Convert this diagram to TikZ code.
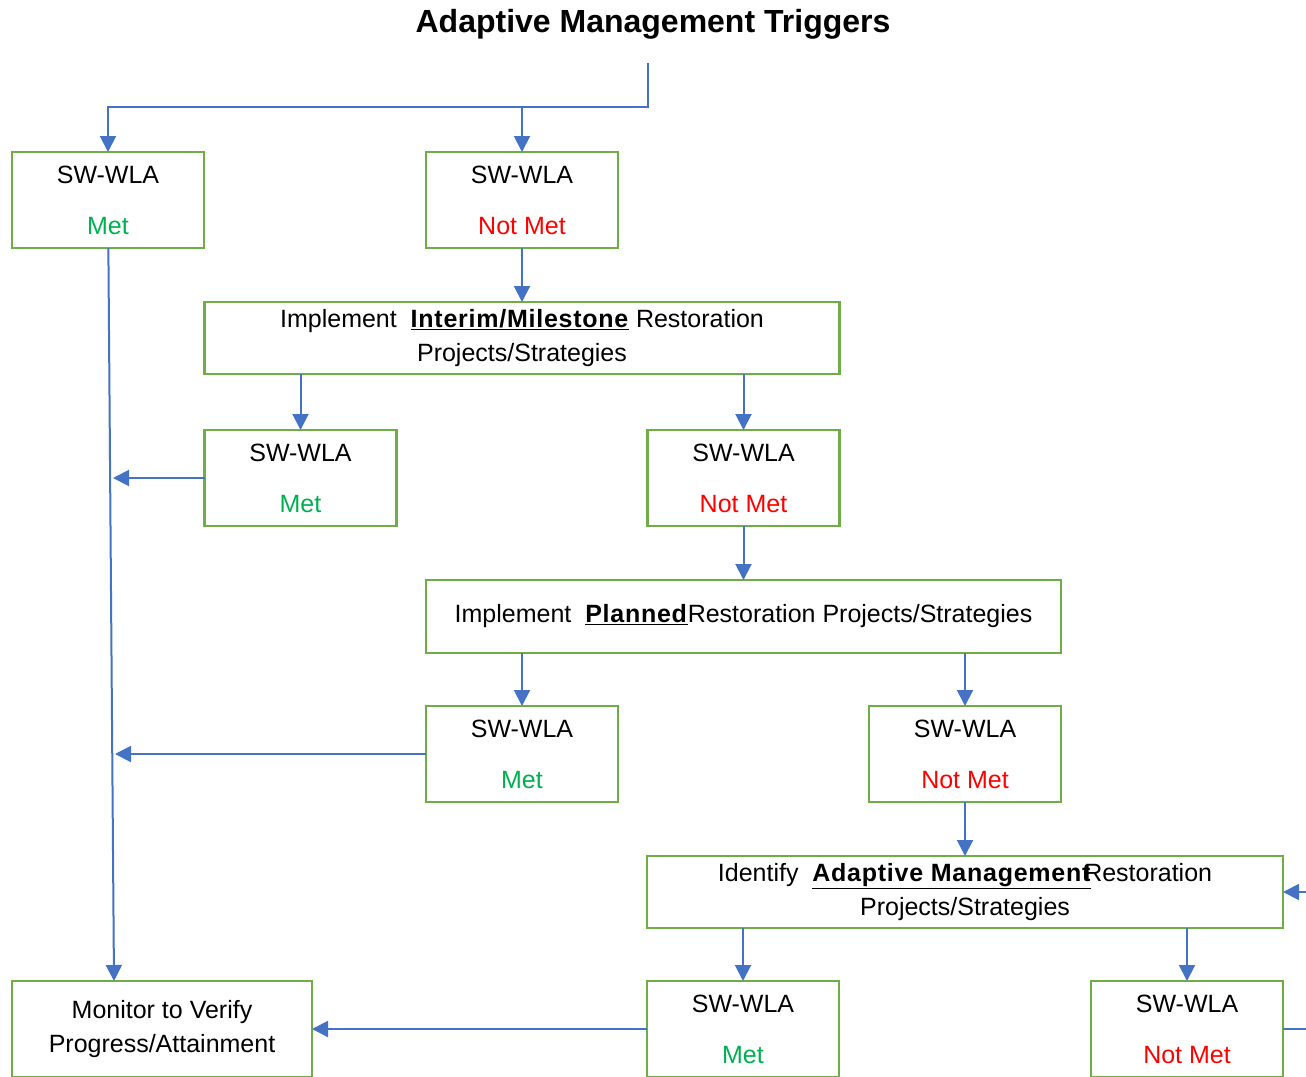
\documentclass[tikz,border=0pt]{standalone}
\usepackage{fontspec}
\setmainfont{Liberation Sans}
\usepackage{tikz}
\usetikzlibrary{positioning,arrows.meta}
\definecolor{boxgreen}{HTML}{70AD47}
\definecolor{lineblue}{HTML}{4472C4}
\definecolor{metgreen}{HTML}{00B050}
\definecolor{notred}{HTML}{FF0000}
\newcommand{\keyword}[1]{\underline{\textbf{\addfontfeature{LetterSpace=3}#1}}}

\begin{document}
\begin{tikzpicture}[x=1pt,y=-1pt,
    every node/.style={font=\fontsize{25}{30}\selectfont},
    box/.style={draw=boxgreen,line width=2.5pt,inner sep=0pt,outer sep=0pt,align=center},
    status/.style={box,minimum width=192pt,minimum height=96pt,font=\fontsize{25}{51}\selectfont},
    wide/.style={box,minimum width=635pt,minimum height=72pt,font=\fontsize{25}{34}\selectfont},
    link/.style={-{Triangle[length=16pt,width=16pt]},color=lineblue,line width=2pt}]
    \useasboundingbox (0,0) rectangle (1306,1076);
    \clip (0,0) rectangle (1306,1076);

    \node (title) at (653,24) {\fontsize{32}{38}\selectfont\bfseries Adaptive Management Triggers};

    \node[status] (met1) at (108,200) {SW-WLA\\\textcolor{metgreen}{Met}};
    \node[status] (notmet1) [right=222pt of met1] {SW-WLA\\\textcolor{notred}{Not Met}};
    \node[wide] (interim) [below=54pt of notmet1] {Implement\ \ \keyword{Interim/Milestone} Restoration\\Projects/Strategies};
    \node[status] (met2) [below=56pt of interim.south west,anchor=north west] {SW-WLA\\\textcolor{metgreen}{Met}};
    \node[status] (notmet2) [below=56pt of interim.south east,anchor=north east] {SW-WLA\\\textcolor{notred}{Not Met}};
    \node[wide,minimum height=73pt] (planned) [below=54pt of notmet2] {Implement\ \ \keyword{Planned}Restoration Projects/Strategies};
    \node[status] (met3) [below=53pt of planned.south west,anchor=north west] {SW-WLA\\\textcolor{metgreen}{Met}};
    \node[status] (notmet3) [below=53pt of planned.south east,anchor=north east] {SW-WLA\\\textcolor{notred}{Not Met}};
    \node[wide,minimum width=636pt] (adapt) [below=54pt of notmet3] {Identify\ \ \keyword{Adaptive Management}\hspace{-7pt}Restoration\\Projects/Strategies};
    \node[status] (met4) [below=53pt of adapt.south west,anchor=north west] {SW-WLA\\\textcolor{metgreen}{Met}};
    \node[status] (notmet4) [below=53pt of adapt.south east,anchor=north east] {SW-WLA\\\textcolor{notred}{Not Met}};
    \node[box,minimum width=300pt,minimum height=96pt,font=\fontsize{25}{34}\selectfont] (monitor) [left=335pt of met4] {Monitor to Verify\\Progress/Attainment};

    \coordinate (src) at (648,63);
    \coordinate (hub) at (648,107);
    \coordinate (trunk) at ([xshift=-48pt]monitor.north);
    \coordinate (j2) at ([xshift=5pt]met2.west -| met1.south);
    \coordinate (j3) at ([xshift=7pt]met3.west -| met1.south);
    \coordinate (loop) at ([xshift=60pt]notmet4.east);

    \draw[link] (src) -- (hub) -| (met1);
    \draw[link] (notmet1.north |- hub) -- (notmet1);
    \draw[link] (met2.north |- interim.south) -- (met2);
    \draw[link] (notmet2.north |- interim.south) -- (notmet2);
    \draw[link] (met3.north |- planned.south) -- (met3);
    \draw[link] (notmet3.north |- planned.south) -- (notmet3);
    \draw[link] (met4.north |- adapt.south) -- (met4);
    \draw[link] (notmet4.north |- adapt.south) -- (notmet4);
    \draw[link] (notmet4) -- (loop) |- (adapt);

    \path[link]
    (notmet1) edge (interim)
    (notmet2) edge (planned)
    (notmet3) edge (adapt)
    (met1)    edge (trunk)
    (met2)    edge (j2)
    (met3)    edge (j3)
    (met4)    edge (monitor);
\end{tikzpicture}
\end{document}
